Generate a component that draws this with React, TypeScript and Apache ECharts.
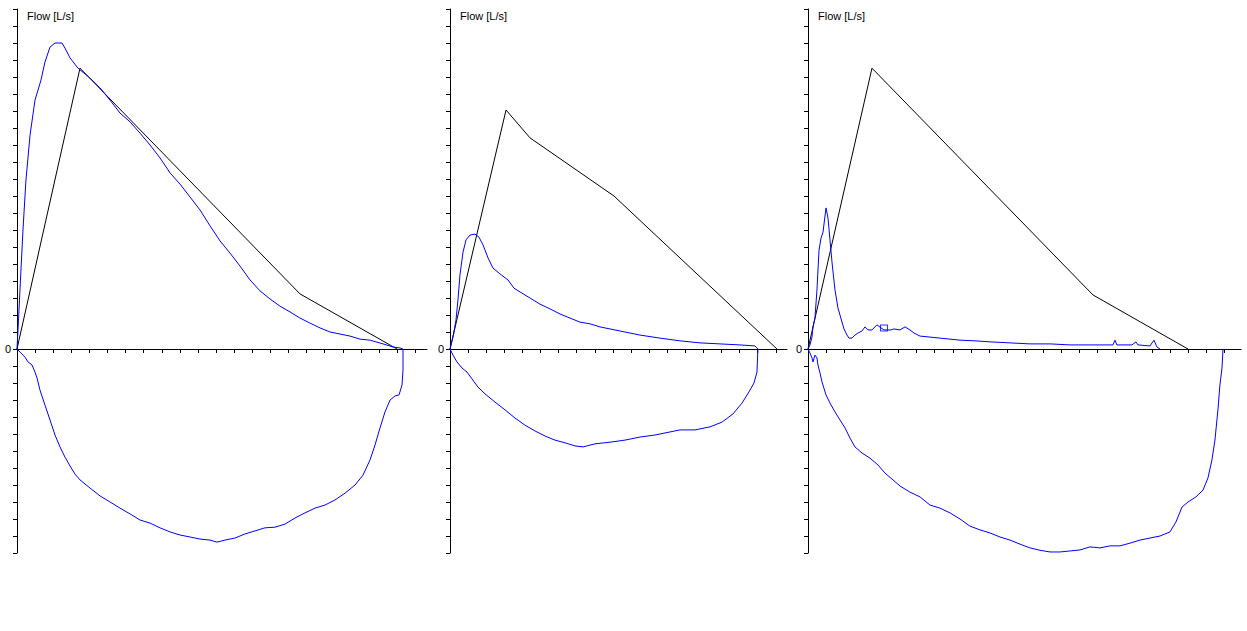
import { useEffect, useRef } from 'react';
import * as echarts from 'echarts';

// Volume axis ticks [L] and flow range [L/s]
const volTicks1 = [0, 0.2, 0.4, 0.6, 0.8, 1, 1.2, 1.4, 1.6, 1.8, 2, 2.2, 2.4, 2.6, 2.8, 3, 3.2, 3.4, 3.6, 3.8, 4, 4.2, 4.4];
const volTicks2 = [0, 0.2, 0.4, 0.6, 0.8, 1, 1.2, 1.4, 1.6, 1.8, 2, 2.2, 2.4, 2.6, 2.8, 3, 3.2, 3.4, 3.6];
const volTicks3 = [0, 0.2, 0.4, 0.6, 0.8, 1, 1.2, 1.4, 1.6, 1.8, 2, 2.2, 2.4, 2.6, 2.8, 3, 3.2, 3.4, 3.6, 3.8, 4, 4.2, 4.4, 4.6];
const volMax = [4.53, 3.724, 4.785];
const flowMin = -6;
const flowMax = 10;
const flowInterval = 0.5;
const axisTitle = 'Flow [L/s]';

// Panel 1
const pred1 = [[0, 0], [0.696, 8.26], [3.127, 1.62], [4.199, 0]];
const exp1 = [
  [0, 0], [0.011, 0.56], [0.033, 1.74], [0.066, 3.5], [0.099, 4.97], [0.144, 6.29], [0.199, 7.32], [0.265, 7.91],
  [0.309, 8.44], [0.365, 8.88], [0.42, 9.0], [0.497, 9.0], [0.53, 8.85], [0.586, 8.56], [0.674, 8.26], [0.807, 7.97],
  [0.917, 7.68], [1.028, 7.32], [1.138, 6.94], [1.249, 6.68], [1.359, 6.35], [1.47, 6.0], [1.58, 5.62], [1.691, 5.18],
  [1.801, 4.85], [1.912, 4.47], [2.022, 4.09], [2.133, 3.62], [2.243, 3.18], [2.354, 2.82], [2.464, 2.44], [2.575, 2.03],
  [2.685, 1.71], [2.796, 1.47], [2.906, 1.26], [3.017, 1.09], [3.127, 0.91], [3.238, 0.76], [3.348, 0.62], [3.459, 0.5],
  [3.569, 0.44], [3.68, 0.38], [3.79, 0.29], [3.901, 0.26], [4.044, 0.15], [4.155, 0.06], [4.232, 0.03], [4.265, 0]
];
const insp1 = [
  [0, 0], [0.033, -0.09], [0.088, -0.24], [0.122, -0.38], [0.166, -0.47], [0.199, -0.68], [0.221, -0.85], [0.254, -1.21],
  [0.309, -1.65], [0.365, -2.09], [0.42, -2.53], [0.475, -2.88], [0.53, -3.18], [0.586, -3.44], [0.641, -3.68], [0.696, -3.85],
  [0.807, -4.09], [0.917, -4.32], [1.028, -4.5], [1.138, -4.68], [1.249, -4.85], [1.359, -5.03], [1.47, -5.12], [1.58, -5.26],
  [1.691, -5.38], [1.801, -5.47], [1.912, -5.53], [2.022, -5.59], [2.133, -5.62], [2.21, -5.68], [2.298, -5.62], [2.409, -5.56],
  [2.519, -5.44], [2.63, -5.35], [2.74, -5.26], [2.851, -5.24], [2.961, -5.15], [3.072, -4.97], [3.182, -4.82], [3.293, -4.68],
  [3.403, -4.59], [3.514, -4.44], [3.624, -4.24], [3.735, -4.0], [3.823, -3.71], [3.901, -3.26], [3.956, -2.82], [4.011, -2.32],
  [4.066, -1.85], [4.122, -1.5], [4.177, -1.38], [4.221, -1.35], [4.254, -1.06], [4.265, -0.62], [4.265, 0]
];

// Panel 2
const pred2 = [[0, 0], [0.619, 7.03], [0.884, 6.21], [1.812, 4.5], [3.613, 0]];
const exp2 = [
  [0, 0], [0.033, 0.35], [0.066, 0.85], [0.088, 1.44], [0.11, 2.18], [0.144, 2.85], [0.177, 3.21], [0.221, 3.35],
  [0.276, 3.38], [0.32, 3.29], [0.365, 3.06], [0.42, 2.68], [0.475, 2.38], [0.552, 2.21], [0.641, 2.03], [0.707, 1.79],
  [0.773, 1.68], [0.884, 1.5], [0.994, 1.32], [1.105, 1.18], [1.215, 1.03], [1.326, 0.91], [1.436, 0.79], [1.547, 0.74],
  [1.657, 0.65], [1.878, 0.53], [2.099, 0.41], [2.32, 0.32], [2.541, 0.24], [2.762, 0.18], [2.983, 0.15], [3.204, 0.12],
  [3.37, 0.09], [3.403, 0]
];
const insp2 = [
  [0, 0], [0.033, -0.18], [0.077, -0.38], [0.133, -0.56], [0.188, -0.68], [0.243, -0.88], [0.309, -1.12], [0.387, -1.32],
  [0.497, -1.56], [0.608, -1.79], [0.718, -2.03], [0.829, -2.24], [0.939, -2.41], [1.05, -2.56], [1.16, -2.68], [1.271, -2.76],
  [1.381, -2.85], [1.47, -2.88], [1.602, -2.79], [1.768, -2.74], [1.934, -2.68], [2.099, -2.59], [2.265, -2.53], [2.431, -2.44],
  [2.541, -2.38], [2.707, -2.38], [2.873, -2.29], [3.006, -2.15], [3.127, -1.91], [3.227, -1.59], [3.304, -1.26], [3.359, -1.0],
  [3.392, -0.68], [3.403, 0]
];

// Panel 3
const pred3 = [[0, 0], [0.707, 8.26], [3.149, 1.59], [4.199, 0]];
const exp3 = [
  [0, 0], [0.022, 0.12], [0.044, 0.35], [0.055, 0.65], [0.077, 0.91], [0.099, 1.74], [0.122, 2.91], [0.144, 3.26],
  [0.166, 3.44], [0.199, 4.15], [0.221, 3.85], [0.243, 3.21], [0.265, 2.56], [0.298, 1.74], [0.331, 1.21], [0.376, 0.79],
  [0.398, 0.59], [0.431, 0.41], [0.453, 0.32], [0.486, 0.32], [0.519, 0.41], [0.552, 0.47], [0.597, 0.53], [0.63, 0.65],
  [0.663, 0.56], [0.707, 0.56], [0.762, 0.71], [0.807, 0.62], [0.84, 0.56], [0.917, 0.56], [0.95, 0.59], [1.017, 0.56],
  [1.072, 0.65], [1.127, 0.56], [1.171, 0.47], [1.238, 0.38], [1.348, 0.35], [1.459, 0.32], [1.569, 0.29], [1.68, 0.26],
  [1.845, 0.24], [2.011, 0.21], [2.232, 0.18], [2.453, 0.15], [2.674, 0.15], [2.895, 0.12], [3.116, 0.12], [3.337, 0.12],
  [3.37, 0.12], [3.392, 0.26], [3.414, 0.12], [3.58, 0.12], [3.624, 0.21], [3.646, 0.12], [3.779, 0.09], [3.823, 0.26],
  [3.856, 0.06], [3.89, 0]
];
const insp3 = [
  [0, 0], [0.022, -0.12], [0.044, -0.26], [0.055, -0.38], [0.077, -0.18], [0.099, -0.26], [0.11, -0.47], [0.133, -0.71],
  [0.155, -0.97], [0.199, -1.35], [0.243, -1.59], [0.298, -1.85], [0.354, -2.09], [0.409, -2.32], [0.464, -2.62], [0.519, -2.88],
  [0.597, -3.06], [0.685, -3.21], [0.773, -3.41], [0.851, -3.65], [0.939, -3.85], [1.017, -4.03], [1.127, -4.21], [1.238, -4.35],
  [1.348, -4.59], [1.459, -4.68], [1.569, -4.82], [1.68, -5.0], [1.79, -5.21], [1.901, -5.32], [2.011, -5.41], [2.122, -5.53],
  [2.232, -5.62], [2.343, -5.74], [2.453, -5.85], [2.564, -5.92], [2.674, -5.97], [2.785, -5.97], [2.895, -5.94], [3.006, -5.91],
  [3.116, -5.82], [3.227, -5.85], [3.337, -5.79], [3.448, -5.79], [3.558, -5.71], [3.669, -5.62], [3.779, -5.56], [3.89, -5.5],
  [4.0, -5.38], [4.066, -5.09], [4.133, -4.65], [4.199, -4.5], [4.287, -4.35], [4.365, -4.15], [4.42, -3.79], [4.464, -3.26],
  [4.497, -2.68], [4.53, -1.79], [4.552, -1.06], [4.575, -0.56], [4.586, 0]
];
const marker3 = [[0.84, 0.62]];

const BLUE = '#0000ff';
const BLACK = '#000000';
const FONT = 'Liberation Sans, Arial, sans-serif';

export default function App() {
  const ref = useRef<HTMLDivElement>(null);

  useEffect(() => {
    if (!ref.current) return;
    const chart = echarts.init(ref.current, null, { renderer: 'svg' });

    const gridBoxes = [
      { left: 17, top: 9, width: 410, height: 544 },
      { left: 450, top: 9, width: 337, height: 544 },
      { left: 808, top: 9, width: 433, height: 544 }
    ];
    const tickSets = [volTicks1, volTicks2, volTicks3];
    const panels = [
      { pred: pred1, exp: exp1, insp: insp1 },
      { pred: pred2, exp: exp2, insp: insp2 },
      { pred: pred3, exp: exp3, insp: insp3 }
    ];

    const lineSeries = (data: number[][], i: number, color: string, name: string) => ({
      type: 'line',
      name,
      xAxisIndex: i,
      yAxisIndex: i,
      data,
      symbol: 'none',
      showSymbol: false,
      smooth: false,
      silent: true,
      clip: false,
      lineStyle: { color, width: 1 },
      itemStyle: { color }
    });

    const series: any[] = [];
    panels.forEach((p, i) => {
      series.push(lineSeries(p.pred, i, BLACK, 'Predicted'));
      series.push(lineSeries(p.exp, i, BLUE, 'Expiration'));
      series.push(lineSeries(p.insp, i, BLUE, 'Inspiration'));
    });
    series.push({
      type: 'scatter',
      xAxisIndex: 2,
      yAxisIndex: 2,
      data: marker3,
      symbol: 'rect',
      symbolSize: [7, 6],
      silent: true,
      itemStyle: { color: 'rgba(0,0,0,0)', borderColor: BLUE, borderWidth: 1 }
    });

    const option: any = {
      animation: false,
      backgroundColor: '#ffffff',
      grid: gridBoxes.map((g) => ({ ...g, containLabel: false })),
      xAxis: gridBoxes.map((_, i) => ({
        type: 'value',
        gridIndex: i,
        min: 0,
        max: volMax[i],
        axisLine: { show: true, onZero: true, lineStyle: { color: BLACK, width: 1 } },
        axisTick: { show: true, length: 4, customValues: tickSets[i], lineStyle: { color: BLACK, width: 1 } },
        axisLabel: { show: false },
        splitLine: { show: false }
      })),
      yAxis: gridBoxes.map((_, i) => ({
        type: 'value',
        gridIndex: i,
        min: flowMin,
        max: flowMax,
        interval: flowInterval,
        axisLine: { show: true, onZero: false, lineStyle: { color: BLACK, width: 1 } },
        axisTick: { show: true, length: 4, lineStyle: { color: BLACK, width: 1 } },
        axisLabel: {
          show: true,
          formatter: (v: number) => (v === 0 ? '0' : ''),
          color: BLACK,
          fontSize: 11,
          fontFamily: FONT,
          margin: 6
        },
        splitLine: { show: false }
      })),
      graphic: gridBoxes.map((g) => ({
        type: 'text',
        x: g.left + 10,
        y: 15.5,
        silent: true,
        style: {
          text: axisTitle,
          font: '11px ' + FONT,
          fill: BLACK,
          align: 'left',
          verticalAlign: 'middle'
        }
      })),
      series
    };

    chart.setOption(option);
    return () => chart.dispose();
  }, []);

  return (
    <div
      ref={ref}
      style={{ position: 'absolute', left: 0, top: 0, width: 1247, height: 631, background: '#ffffff' }}
    />
  );
}
